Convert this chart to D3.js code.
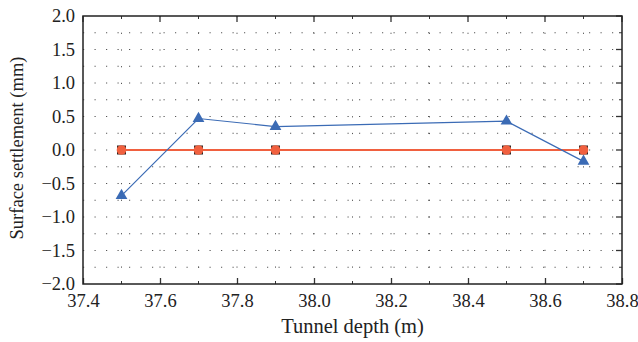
<!DOCTYPE html>
<html>
<head>
<meta charset="utf-8">
<script src="https://cdn.jsdelivr.net/npm/d3@7"></script>
<style>
  body { margin: 0; background: #fff; }
  svg { display: block; }
  svg text { font-family: "Liberation Serif", "Times New Roman", "DejaVu Serif", serif; }
</style>
</head>
<body>
<div id="chart"></div>
<script>
// Data
const depths = [37.5, 37.7, 37.9, 38.5, 38.7];
const settlementA = [-0.68, 0.47, 0.35, 0.43, -0.17];   // blue triangles
const settlementB = [0, 0, 0, 0, 0];                     // orange circles
const settlementC = [0, 0, 0, 0, 0];                     // dark squares
const xTicks = [37.4, 37.6, 37.8, 38.0, 38.2, 38.4, 38.6, 38.8];
const yTicks = [-2.0, -1.5, -1.0, -0.5, 0.0, 0.5, 1.0, 1.5, 2.0];

const width = 638, height = 342;
const margin = { top: 16, right: 16, bottom: 58, left: 83 };
const innerWidth = width - margin.left - margin.right;
const innerHeight = height - margin.top - margin.bottom;

const svg = d3.select('#chart').append('svg')
    .attr('width', width)
    .attr('height', height);

const g = svg.append('g').attr('transform', `translate(${margin.left},${margin.top})`);

const x = d3.scaleLinear().domain([37.4, 38.8]).range([0, innerWidth]);
const y = d3.scaleLinear().domain([-2, 2]).range([innerHeight, 0]);

// dotted grid: vertical every 0.1, horizontal every 0.25
const xGrid = d3.range(37.5, 38.8, 0.1).map(v => +v.toFixed(2));
const yGrid = d3.range(-1.75, 2.0, 0.25).map(v => +v.toFixed(2));

g.append('g').selectAll('line')
    .data(xGrid)
    .join('line')
    .attr('x1', d => x(d)).attr('x2', d => x(d))
    .attr('y1', 0).attr('y2', innerHeight)
    .attr('stroke', '#555')
    .attr('stroke-width', 1)
    .attr('stroke-dasharray', '1.2,15.5');

g.append('g').selectAll('line')
    .data(yGrid)
    .join('line')
    .attr('x1', 0).attr('x2', innerWidth)
    .attr('y1', d => y(d)).attr('y2', d => y(d))
    .attr('stroke', '#555')
    .attr('stroke-width', 1)
    .attr('stroke-dasharray', '1.2,10.3');

// axes with inward ticks
const tickColor = '#333';
const fontStack = '"Liberation Serif", "Times New Roman", "DejaVu Serif", serif';
const xMinor = d3.range(37.5, 38.8, 0.2).map(v => +v.toFixed(2));
const yMinor = d3.range(-1.75, 2.0, 0.5).map(v => +v.toFixed(2));

g.append('g')
    .attr('transform', `translate(0,${innerHeight})`)
    .call(d3.axisBottom(x).tickValues(xTicks).tickFormat(d3.format('.1f')).tickSizeInner(-6).tickSizeOuter(0).tickPadding(10))
    .call(a => a.attr('font-family', fontStack).attr('font-size', 18.5))
    .call(a => a.select('.domain').remove())
    .call(a => a.selectAll('line').attr('stroke', tickColor).attr('stroke-width', 1.3))
    .call(a => a.selectAll('text').attr('fill', '#222'));

g.append('g')
    .call(d3.axisLeft(y).tickValues(yTicks).tickFormat(d => d3.format('.1f')(d).replace('-', '\u2212')).tickSizeInner(0).tickSizeOuter(0).tickPadding(8))
    .call(a => a.attr('font-family', fontStack).attr('font-size', 18.5))
    .call(a => a.select('.domain').remove())
    .call(a => a.selectAll('text').attr('fill', '#222'));

// top ticks
g.append('g').selectAll('line')
    .data(xTicks)
    .join('line')
    .attr('x1', d => x(d)).attr('x2', d => x(d))
    .attr('y1', 0).attr('y2', 6)
    .attr('stroke', tickColor).attr('stroke-width', 1.3);

g.append('g').selectAll('line')
    .data(xMinor)
    .join('line')
    .attr('x1', d => x(d)).attr('x2', d => x(d))
    .attr('y1', 0).attr('y2', 3)
    .attr('stroke', tickColor);
g.append('g').selectAll('line')
    .data(xMinor)
    .join('line')
    .attr('x1', d => x(d)).attr('x2', d => x(d))
    .attr('y1', innerHeight).attr('y2', innerHeight - 3)
    .attr('stroke', tickColor);

// right ticks
g.append('g').selectAll('line')
    .data(yTicks)
    .join('line')
    .attr('x1', innerWidth).attr('x2', innerWidth - 6)
    .attr('y1', d => y(d)).attr('y2', d => y(d))
    .attr('stroke', tickColor).attr('stroke-width', 1.3);
g.append('g').selectAll('line')
    .data(yMinor)
    .join('line')
    .attr('x1', innerWidth).attr('x2', innerWidth - 3)
    .attr('y1', d => y(d)).attr('y2', d => y(d))
    .attr('stroke', tickColor);

// frame
g.append('rect')
    .attr('width', innerWidth).attr('height', innerHeight)
    .attr('fill', 'none')
    .attr('stroke', '#222')
    .attr('stroke-width', 1.5);

// series
const line = d3.line().x(d => x(d[0])).y(d => y(d[1]));

const orange = '#f0603f';
const blue = '#3b6bb5';

g.append('path')
    .datum(depths.map((d, i) => [d, settlementB[i]]))
    .attr('d', line)
    .attr('fill', 'none')
    .attr('stroke', orange)
    .attr('stroke-width', 2);

g.append('g').selectAll('rect')
    .data(depths.map((d, i) => [d, settlementC[i]]))
    .join('rect')
    .attr('x', d => x(d[0]) - 4.5).attr('y', d => y(d[1]) - 4.5)
    .attr('width', 9).attr('height', 9)
    .attr('fill', '#2a2220');

g.append('g').selectAll('circle')
    .data(depths.map((d, i) => [d, settlementB[i]]))
    .join('circle')
    .attr('cx', d => x(d[0])).attr('cy', d => y(d[1]))
    .attr('r', 4.8)
    .attr('fill', orange);

g.append('path')
    .datum(depths.map((d, i) => [d, settlementA[i]]))
    .attr('d', line)
    .attr('fill', 'none')
    .attr('stroke', blue)
    .attr('stroke-width', 1.2);

g.append('g').selectAll('path')
    .data(depths.map((d, i) => [d, settlementA[i]]))
    .join('path')
    .attr('transform', d => `translate(${x(d[0])},${y(d[1])})`)
    .attr('d', d3.symbol(d3.symbolTriangle, 60))
    .attr('fill', blue);

// axis titles
svg.append('text')
    .attr('x', margin.left + innerWidth / 2)
    .attr('y', 333)
    .attr('text-anchor', 'middle')
    .attr('font-size', 20.5)
    .attr('fill', '#222')
    .text('Tunnel depth (m)');

svg.append('text')
    .attr('transform', 'translate(23,148) rotate(-90)')
    .attr('text-anchor', 'middle')
    .attr('font-size', 18.5)
    .attr('fill', '#222')
    .text('Surface settlement (mm)');
</script>
</body>
</html>
